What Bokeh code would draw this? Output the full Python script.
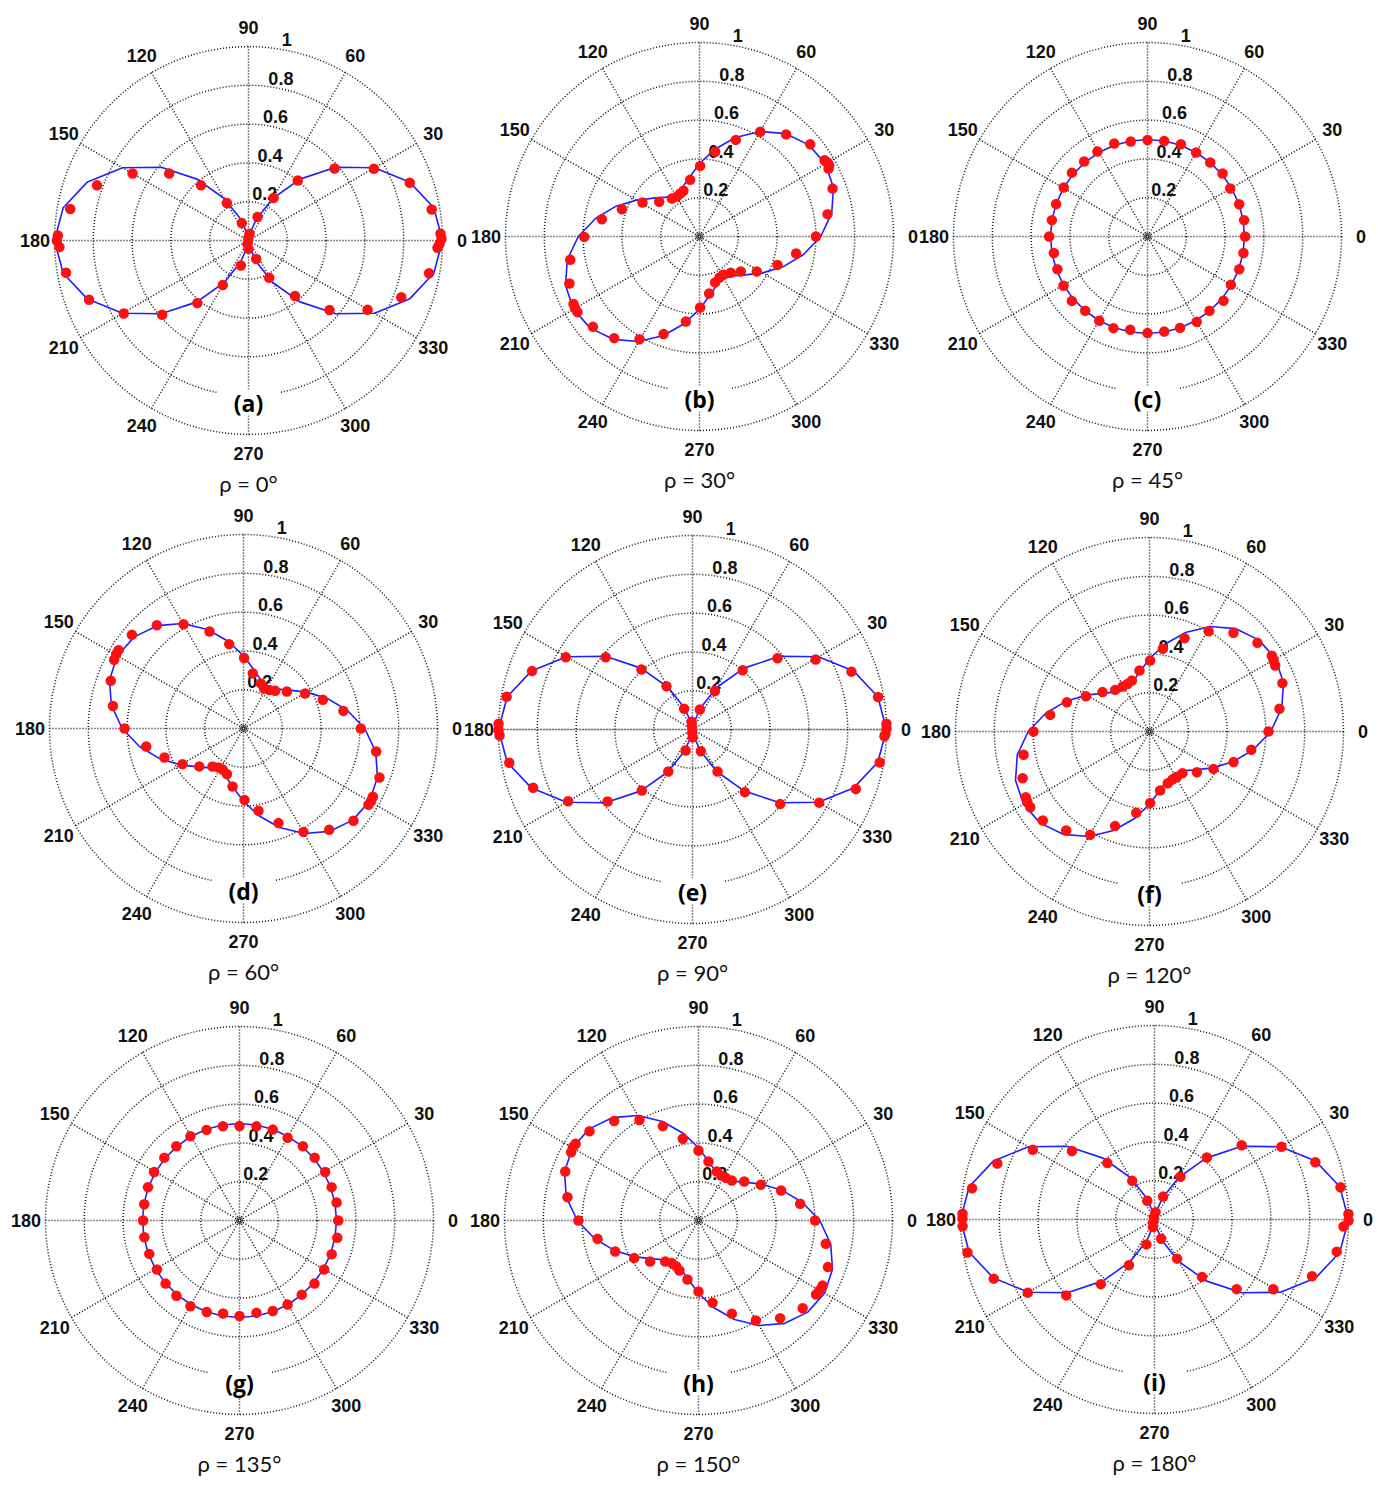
import numpy as np
from bokeh.plotting import figure
from bokeh.models import Range1d
from bokeh.core.properties import value
from bokeh.embed import file_html
from bokeh.resources import INLINE

# ---------------- data ----------------
LINE_DEG = list(range(0, 361, 10))
LINE_COS2 = [1.0, 0.970, 0.883, 0.750, 0.587, 0.413, 0.250, 0.117, 0.030, 0.0, 0.030, 0.117,
             0.250, 0.413, 0.587, 0.750, 0.883, 0.970, 1.0, 0.970, 0.883, 0.750, 0.587, 0.413,
             0.250, 0.117, 0.030, 0.0, 0.030, 0.117, 0.250, 0.413, 0.587, 0.750, 0.883, 0.970, 1.0]
LINE_Q30 = [0.625, 0.692, 0.735, 0.750, 0.735, 0.692, 0.625, 0.543, 0.457, 0.375, 0.308, 0.265,
            0.250, 0.265, 0.308, 0.375, 0.457, 0.543, 0.625, 0.692, 0.735, 0.750, 0.735, 0.692,
            0.625, 0.543, 0.457, 0.375, 0.308, 0.265, 0.250, 0.265, 0.308, 0.375, 0.457, 0.543, 0.625]
LINE_Q60 = [0.625, 0.543, 0.457, 0.375, 0.308, 0.265, 0.250, 0.265, 0.308, 0.375, 0.457, 0.543,
            0.625, 0.692, 0.735, 0.750, 0.735, 0.692, 0.625, 0.543, 0.457, 0.375, 0.308, 0.265,
            0.250, 0.265, 0.308, 0.375, 0.457, 0.543, 0.625, 0.692, 0.735, 0.750, 0.735, 0.692, 0.625]
LINE_CIRC = [0.5, 0.5, 0.5, 0.5, 0.5, 0.5, 0.5, 0.5, 0.5, 0.5, 0.5, 0.5, 0.5, 0.5, 0.5, 0.5, 0.5,
             0.5, 0.5, 0.5, 0.5, 0.5, 0.5, 0.5, 0.5, 0.5, 0.5, 0.5, 0.5, 0.5, 0.5, 0.5, 0.5, 0.5,
             0.5, 0.5, 0.5]

A_DEG = [2, 0.5, -1, -2.2, 9.6, 19.7, 29.8, 39.9, 50.6, 59.4, 69, 81, 95, 111, 120, 130.7, 139.8,
         150, 160, 170, 178.5, 180, 182, 190, 200.4, 210.3, 220.7, 230.7, 240, 253, 253, 270,
         292.7, 299, 310, 319.4, 329.8, 339.6, 349.7]
A_R = [0.99, 0.995, 0.985, 0.975, 0.958, 0.883, 0.745, 0.578, 0.40, 0.254, 0.13, 0.035, 0.012,
       0.096, 0.223, 0.375, 0.535, 0.69, 0.831, 0.933, 0.983, 0.988, 0.975, 0.955, 0.877, 0.745,
       0.587, 0.417, 0.265, 0.135, 0.018, 0.043, 0.103, 0.22, 0.373, 0.55, 0.71, 0.84, 0.946]

B_DEG = [0, 9.9, 19.8, 27.8, 28.8, 30, 31.4, 39.8, 49.7, 59.9, 69.4, 79.5, 89.5, 99.4, 109.3, 114,
         119.5, 126, 139.3, 149.2, 160.6, 170, 180.2, 190.2, 199.9, 208.2, 210, 211.8, 220.3, 230,
         239.7, 249.8, 260.9, 270.5, 279.6, 288.8, 296, 302, 310.8, 319.7, 328.6, 340, 350]
B_R = [0.60, 0.67, 0.729, 0.752, 0.763, 0.762, 0.755, 0.743, 0.69, 0.624, 0.532, 0.444, 0.364,
       0.296, 0.25, 0.243, 0.237, 0.242, 0.274, 0.342, 0.424, 0.511, 0.594, 0.677, 0.713, 0.737,
       0.74, 0.74, 0.72, 0.684, 0.613, 0.536, 0.444, 0.366, 0.298, 0.25, 0.235, 0.233, 0.247,
       0.279, 0.346, 0.428, 0.506]

C_DEG = [0, 9.6, 19.4, 30.1, 40, 49.7, 59.9, 70.1, 80.1, 90, 100, 109.7, 120.5, 130.2, 139.8,
         149.7, 160.5, 170.3, 180, 190, 200, 210.4, 220.4, 230, 240.2, 249.6, 259.5, 270, 280,
         289.6, 300, 309.8, 319.8, 329.9, 340.4, 350.2]
C_R = [0.503, 0.505, 0.501, 0.493, 0.505, 0.50, 0.50, 0.506, 0.50, 0.497, 0.497, 0.509, 0.508,
       0.506, 0.51, 0.50, 0.50, 0.50, 0.507, 0.49, 0.494, 0.502, 0.512, 0.50, 0.50, 0.504, 0.489,
       0.498, 0.497, 0.50, 0.507, 0.499, 0.513, 0.497, 0.502, 0.502]

D_DEG = [0, 10, 19.9, 29.6, 40.5, 50, 55.9, 62.7, 69, 80.4, 89.5, 99.6, 109.3, 119.9, 130, 140,
         147.9, 149.7, 152, 160.2, 170.2, 180, 190.5, 200.2, 210.3, 220.6, 230.8, 237.3, 243.4,
         250, 259.3, 270.8, 280.3, 290.3, 300.1, 310.2, 320, 328.6, 330.5, 332.2, 340.2, 350.2]
D_R = [0.605, 0.523, 0.435, 0.365, 0.294, 0.254, 0.239, 0.232, 0.249, 0.288, 0.363, 0.441, 0.53,
       0.62, 0.695, 0.751, 0.76, 0.76, 0.755, 0.727, 0.683, 0.613, 0.51, 0.434, 0.364, 0.30,
       0.253, 0.239, 0.238, 0.25, 0.304, 0.368, 0.431, 0.52, 0.616, 0.684, 0.74, 0.755, 0.756,
       0.754, 0.745, 0.694]

E_DEG = [1.7, 0.2, -1.3, -2, 9.9, 20, 29.6, 40, 49.7, 59.8, 70, 97, 100, 112, 121, 130.4, 140.2,
         150.3, 160, 170, 178.3, 180.2, 181.8, 190.3, 200.1, 210, 220.3, 230.3, 240, 252, 265, 272,
         291, 300.8, 309.9, 319.7, 330, 340, 350]
E_R = [1.0, 1.0, 0.995, 0.99, 0.971, 0.872, 0.73, 0.572, 0.40, 0.23, 0.11, 0.04, 0.015, 0.115,
       0.26, 0.406, 0.582, 0.752, 0.88, 0.973, 1.0, 1.0, 0.995, 0.96, 0.875, 0.74, 0.574, 0.409,
       0.25, 0.114, 0.015, 0.04, 0.12, 0.252, 0.421, 0.593, 0.754, 0.896, 0.98]

F_DEG = [0, 9.9, 20, 27.7, 29.8, 31.8, 39.4, 49.6, 59.5, 69.4, 80.8, 89.5, 99.3, 109.1, 114.8, 121,
         129.5, 140, 151, 160.5, 170.5, 180, 190.5, 200.2, 208, 210, 212.4, 219.8, 229.9, 240.1,
         250, 260.7, 270.5, 280.2, 289.5, 295.6, 301, 308.4, 319.3, 329.7, 340, 349.8]
F_R = [0.613, 0.68, 0.729, 0.732, 0.737, 0.742, 0.72, 0.668, 0.60, 0.514, 0.432, 0.366, 0.319,
       0.278, 0.27, 0.27, 0.278, 0.316, 0.375, 0.452, 0.519, 0.598, 0.66, 0.697, 0.722, 0.727,
       0.728, 0.716, 0.667, 0.614, 0.519, 0.425, 0.369, 0.309, 0.283, 0.274, 0.274, 0.274, 0.322,
       0.382, 0.461, 0.533]

G_DEG = [0, 10.5, 19.9, 29.5, 39.9, 49.5, 59.8, 69.9, 79.8, 90, 100, 110, 120.2, 130.4, 140.1,
         150.4, 160, 170.3, 180, 190, 200.3, 210.7, 220.5, 230, 240.2, 250.3, 260, 270, 280.4,
         290.2, 299.8, 310, 319.9, 329.9, 339.9, 350]
G_R = [0.509, 0.509, 0.505, 0.507, 0.505, 0.503, 0.493, 0.499, 0.493, 0.487, 0.493, 0.497, 0.503,
       0.502, 0.505, 0.506, 0.502, 0.498, 0.497, 0.498, 0.496, 0.495, 0.501, 0.506, 0.509, 0.501,
       0.487, 0.492, 0.484, 0.497, 0.499, 0.499, 0.505, 0.504, 0.506, 0.512]

H_DEG = [0, 9.3, 20, 29.8, 40.5, 50.2, 57.4, 63.3, 69.5, 80.4, 90, 100.9, 110.7, 120.4, 130.3,
         140.7, 148, 149.7, 151.8, 159.8, 169.9, 180, 190.3, 200.4, 210.3, 220.3, 230.9, 238,
         243.9, 249.2, 259.4, 270, 279.7, 289.7, 299.8, 309.9, 319.9, 327.8, 330, 332.3, 340.2, 349.6]
H_R = [0.601, 0.531, 0.453, 0.37, 0.31, 0.268, 0.261, 0.26, 0.27, 0.308, 0.361, 0.429, 0.52,
       0.601, 0.672, 0.726, 0.747, 0.75, 0.745, 0.732, 0.686, 0.619, 0.529, 0.458, 0.384, 0.327,
       0.272, 0.259, 0.262, 0.276, 0.309, 0.366, 0.43, 0.51, 0.594, 0.656, 0.702, 0.716, 0.72,
       0.722, 0.709, 0.667]

I_DEG = [1.6, -0.3, -2.1, 9.8, 19.6, 29.8, 40.4, 49.8, 58.8, 69.4, 82, 105, 111, 120, 129.9, 140.3,
         150.2, 160.4, 170.3, 178.3, 179.7, 182, 190, 200.2, 210, 220.7, 230.3, 240.8, 252, 243,
         258, 289, 300, 309.6, 319.7, 329.6, 340.2, 350]
I_R = [1.0, 1.0, 0.975, 0.973, 0.88, 0.754, 0.59, 0.418, 0.258, 0.126, 0.038, 0.012, 0.104, 0.23,
       0.379, 0.553, 0.723, 0.86, 0.954, 0.99, 0.99, 0.99, 0.979, 0.883, 0.754, 0.60, 0.433, 0.27,
       0.135, 0.015, 0.04, 0.105, 0.233, 0.384, 0.555, 0.71, 0.863, 0.954]

LETTERS = ["(a)", "(b)", "(c)", "(d)", "(e)", "(f)", "(g)", "(h)", "(i)"]
RHO_LABELS = ["ρ = 0°", "ρ = 30°", "ρ = 45°", "ρ = 60°", "ρ = 90°",
              "ρ = 120°", "ρ = 135°", "ρ = 150°", "ρ = 180°"]
DOT_DEG = [A_DEG, B_DEG, C_DEG, D_DEG, E_DEG, F_DEG, G_DEG, H_DEG, I_DEG]
DOT_R = [A_R, B_R, C_R, D_R, E_R, F_R, G_R, H_R, I_R]
LINES = [LINE_COS2, LINE_Q30, LINE_CIRC, LINE_Q60, LINE_COS2, LINE_Q30, LINE_CIRC, LINE_Q60, LINE_COS2]

RING_R = [0.2, 0.4, 0.6, 0.8, 1.0]
RING_LABELS = ["0.2", "0.4", "0.6", "0.8", "1"]
SPOKE_DEG = [0, 30, 60, 90, 120, 150]
ANGLE_DEG = [0, 30, 60, 90, 120, 150, 180, 210, 240, 270, 300, 330]
ANGLE_LABELS = ["0", "30", "60", "90", "120", "150", "180", "210", "240", "270", "300", "330"]

# ---------------- layout (one unit = one polar radius) ----------------
PW, PH = 1376, 1480
R = 194.0
CX = [248, 699, 1147, 243, 692, 1149, 239, 698, 1154]
CY = [240, 236, 236, 728, 729, 731, 1220, 1220, 1219]
GRID_C = "#111111"
BOLD = value("Liberation Sans")
LAB_XOFF = [-2, -2, -2, -2, 6]

p = figure(width=PW, height=PH,
           x_range=Range1d(0, PW / R), y_range=Range1d(-PH / R, 0),
           output_backend="svg", toolbar_location=None, tools="",
           x_axis_location=None, y_axis_location=None,
           min_border=0, outline_line_color=None, background_fill_color="white")
p.grid.visible = False

sp = np.radians(SPOKE_DEG)
aa = np.radians(ANGLE_DEG)
c82, s82 = np.cos(np.radians(82)), np.sin(np.radians(82))
rr = np.array(RING_R) + 0.01
lt = np.radians(LINE_DEG)

for k in range(9):
    ox, oy = CX[k] / R, -CY[k] / R

    if k == 4:
        p.line([ox - 1, ox + 1], [oy, oy], line_color="#d0d0d0", line_width=1.5)

    # grid rings and spokes
    p.circle(x=ox, y=oy, radius=RING_R, fill_color=None, line_color=GRID_C,
             line_dash="1 2", line_width=1.5)
    p.multi_line(xs=[[ox - np.cos(a), ox + np.cos(a)] for a in sp],
                 ys=[[oy - np.sin(a), oy + np.sin(a)] for a in sp],
                 line_color=GRID_C, line_dash="1 2", line_width=1.5)
    p.scatter(x=[ox], y=[oy], size=6, marker="circle", fill_color=None,
              line_color=GRID_C, line_width=1)

    # angle labels
    p.text(x=ox + 1.1 * np.cos(aa), y=oy + 1.1 * np.sin(aa), text=ANGLE_LABELS,
           text_align="center", text_baseline="middle", text_font=BOLD,
           text_font_style="bold", text_font_size="18px", text_color="#111111")
    # radial tick labels
    p.text(x=ox + rr * c82, y=oy + rr * s82, text=RING_LABELS, x_offset=LAB_XOFF,
           text_align="left", text_baseline="bottom", text_font=BOLD,
           text_font_style="bold", text_font_size="18px", text_color="#111111")

    # theory line
    lr = np.array(LINES[k])
    p.line(ox + lr * np.cos(lt), oy + lr * np.sin(lt), line_color="#1f1fff", line_width=1.6)
    # measured dots
    dt = np.radians(DOT_DEG[k])
    dr = np.array(DOT_R[k])
    p.scatter(ox + dr * np.cos(dt), oy + dr * np.sin(dt), marker="circle", size=10.5,
              fill_color="#ff1010", line_color=None)

    # panel letter with white box
    ly = oy - 162 / R
    p.rect(x=[ox], y=[ly], width=[62], height=[26], width_units="screen",
           height_units="screen", fill_color="white", line_color=None)
    p.text(x=[ox], y=[ly], text=[LETTERS[k]], text_align="center", text_baseline="middle",
           text_font=value("Open Sans"), text_font_style="bold", text_font_size="23px",
           text_color="#000000")
    p.text(x=[ox], y=[oy - 243 / R], text=[RHO_LABELS[k]], text_align="center",
           text_baseline="middle", text_font=value("Lato"), text_font_size="22px",
           text_color="#111111")

open("out.html", "w").write(file_html(p, INLINE))
